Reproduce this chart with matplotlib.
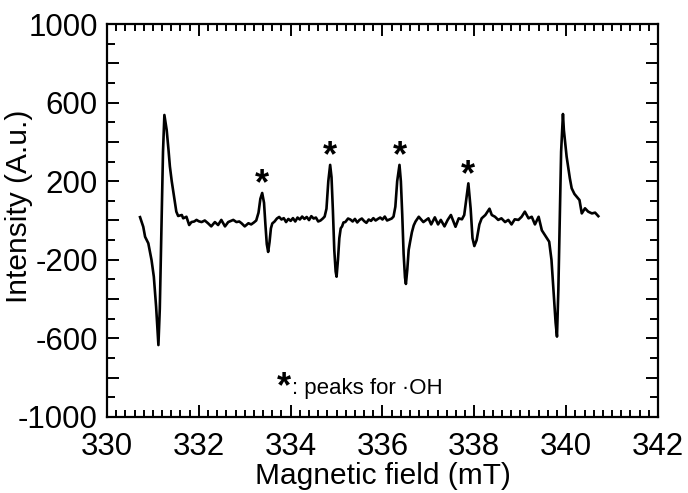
import matplotlib
matplotlib.use("Agg")
import matplotlib.pyplot as plt
from matplotlib.ticker import MultipleLocator, FuncFormatter

plt.rcParams['font.family'] = ['Liberation Sans', 'DejaVu Sans']

# EPR spectrum (magnetic field in mT, intensity in A.u.)
field = [
    330.72, 330.79, 330.83, 330.90, 330.97, 331.02, 331.07, 331.12, 331.15, 331.19,
    331.22, 331.25, 331.30, 331.34, 331.37, 331.41, 331.48, 331.51, 331.55, 331.63, 331.66,
    331.73, 331.79, 331.84, 331.90, 331.95, 332.00, 332.06, 332.13, 332.20, 332.27,
    332.35, 332.42, 332.49, 332.57, 332.64, 332.70, 332.75, 332.82, 332.88, 332.93,
    333.00, 333.08, 333.14, 333.20, 333.25, 333.30, 333.34, 333.38, 333.42, 333.45,
    333.48, 333.51, 333.54, 333.57, 333.60, 333.65, 333.70, 333.75, 333.80, 333.85,
    333.90, 333.95, 334.00, 334.05, 334.10, 334.15, 334.20, 334.25, 334.30, 334.35,
    334.40, 334.45, 334.50, 334.55, 334.60, 334.65, 334.70, 334.74, 334.78, 334.82,
    334.86, 334.89, 334.92, 334.95, 334.98, 335.00, 335.03, 335.06, 335.09, 335.12,
    335.15, 335.19, 335.25, 335.30, 335.35, 335.40, 335.45, 335.50, 335.55, 335.60,
    335.65, 335.70, 335.75, 335.80, 335.85, 335.90, 335.95, 336.00, 336.05, 336.10,
    336.15, 336.20, 336.24, 336.28, 336.32, 336.37, 336.40, 336.43, 336.46, 336.49,
    336.51, 336.54, 336.57, 336.60, 336.64, 336.68, 336.72, 336.79, 336.89, 337.00,
    337.06, 337.14, 337.21, 337.27, 337.35, 337.42, 337.49, 337.59, 337.66, 337.73,
    337.78, 337.82, 337.87, 337.92, 337.96, 338.00, 338.05, 338.11, 338.16, 338.24,
    338.33, 338.38, 338.45, 338.52, 338.59, 338.67, 338.74, 338.81, 338.88, 338.96,
    339.03, 339.10, 339.18, 339.25, 339.32, 339.40, 339.47, 339.54, 339.63, 339.68,
    339.73, 339.77, 339.80, 339.83, 339.86, 339.89, 339.93, 339.95, 340.01, 340.05,
    340.08, 340.12, 340.18, 340.23, 340.29, 340.34, 340.41, 340.48, 340.56, 340.63,
    340.70,
]
intensity = [
    17, -32, -83, -116, -201, -286, -439, -634, -450, 0,
    350, 537, 461, 359, 275, 200, 91, 45, 23, 28, 11,
    19, -23, -8, -5, 3, -4, -8, 0, -14, -30,
    -8, -23, 3, -30, -8, -2, 3, -8, -5, -14,
    -30, -14, -20, -10, 0, 40, 110, 140, 90, -20,
    -120, -160, -110, -40, -15, -5, 10, 18, 5, 12,
    -8, 8, -2, 12, -5, 15, 5, 20, 8, 18,
    2, 22, 10, 15, -5, 0, 10, 20, 60, 200,
    283, 220, 50, -150, -260, -286, -200, -90, -40, -30,
    -10, -8, 10, 5, -5, 8, -10, 3, 10, -3,
    -12, 5, -2, 12, 0, 8, 15, 5, 20, 0,
    5, 10, 20, 70, 200, 283, 200, 30, -170, -290,
    -323, -250, -150, -110, -60, -25, -5, 19, -8, 11,
    -20, 16, -20, 3, -30, 3, 28, -32, 11, 6,
    28, 100, 189, 60, -90, -130, -100, -20, 11, 28,
    60, 28, 19, 3, 11, -8, 3, -20, 6, 3,
    19, 45, 11, 19, -20, 19, -50, -75, -108, -200,
    -380, -520, -591, -350, 0, 350, 542, 460, 325, 260,
    215, 164, 135, 121, 104, 36, 62, 45, 36, 40,
    22,
]

# peaks marked with an asterisk
star_x = [333.38, 334.86, 336.37, 337.87]
star_y = [140, 283, 283, 189]

fig = plt.figure(figsize=(6.88, 4.93), dpi=100)
ax = fig.add_axes([0.1555, 0.1542, 0.8009, 0.7971])

ax.plot(field, intensity, color='black', lw=1.9, solid_joinstyle='round')

for sx, sy in zip(star_x, star_y):
    ax.annotate('*', xy=(sx, sy), xytext=(0, -1), textcoords='offset points',
                ha='center', va='baseline', fontsize=26, fontweight='bold')

ax.text(333.86, -900, '*', ha='center', va='baseline', fontsize=26, fontweight='bold')
ax.text(334.02, -882, ': peaks for \u00b7OH', ha='left', va='baseline', fontsize=16)

ax.set_xlim(330, 342)
ax.set_ylim(-1000, 1000)
ax.xaxis.set_major_locator(MultipleLocator(2))
ax.xaxis.set_minor_locator(MultipleLocator(0.2))
ax.yaxis.set_major_locator(MultipleLocator(200))
ax.yaxis.set_minor_locator(MultipleLocator(100))
ax.yaxis.set_major_formatter(FuncFormatter(
    lambda v, p: '%d' % v if round(v - 200) % 400 == 0 else ''))

ax.tick_params(which='both', direction='in', top=True, right=True, width=1.4,
               labelsize=22.5)
ax.tick_params(axis='x', which='major', length=8.5, pad=11)
ax.tick_params(axis='x', which='minor', length=4.8)
ax.tick_params(axis='y', which='major', length=8.5, pad=6.6)
ax.tick_params(axis='y', which='minor', length=6)
for s in ax.spines.values():
    s.set_linewidth(1.6)

ax.set_xlabel('Magnetic field (mT)', fontsize=21.5, labelpad=0)
ax.set_ylabel('Intensity (A.u.)', fontsize=21.5)
ax.yaxis.set_label_coords(-0.135, 0.537)

fig.savefig('out.png', dpi=100)
